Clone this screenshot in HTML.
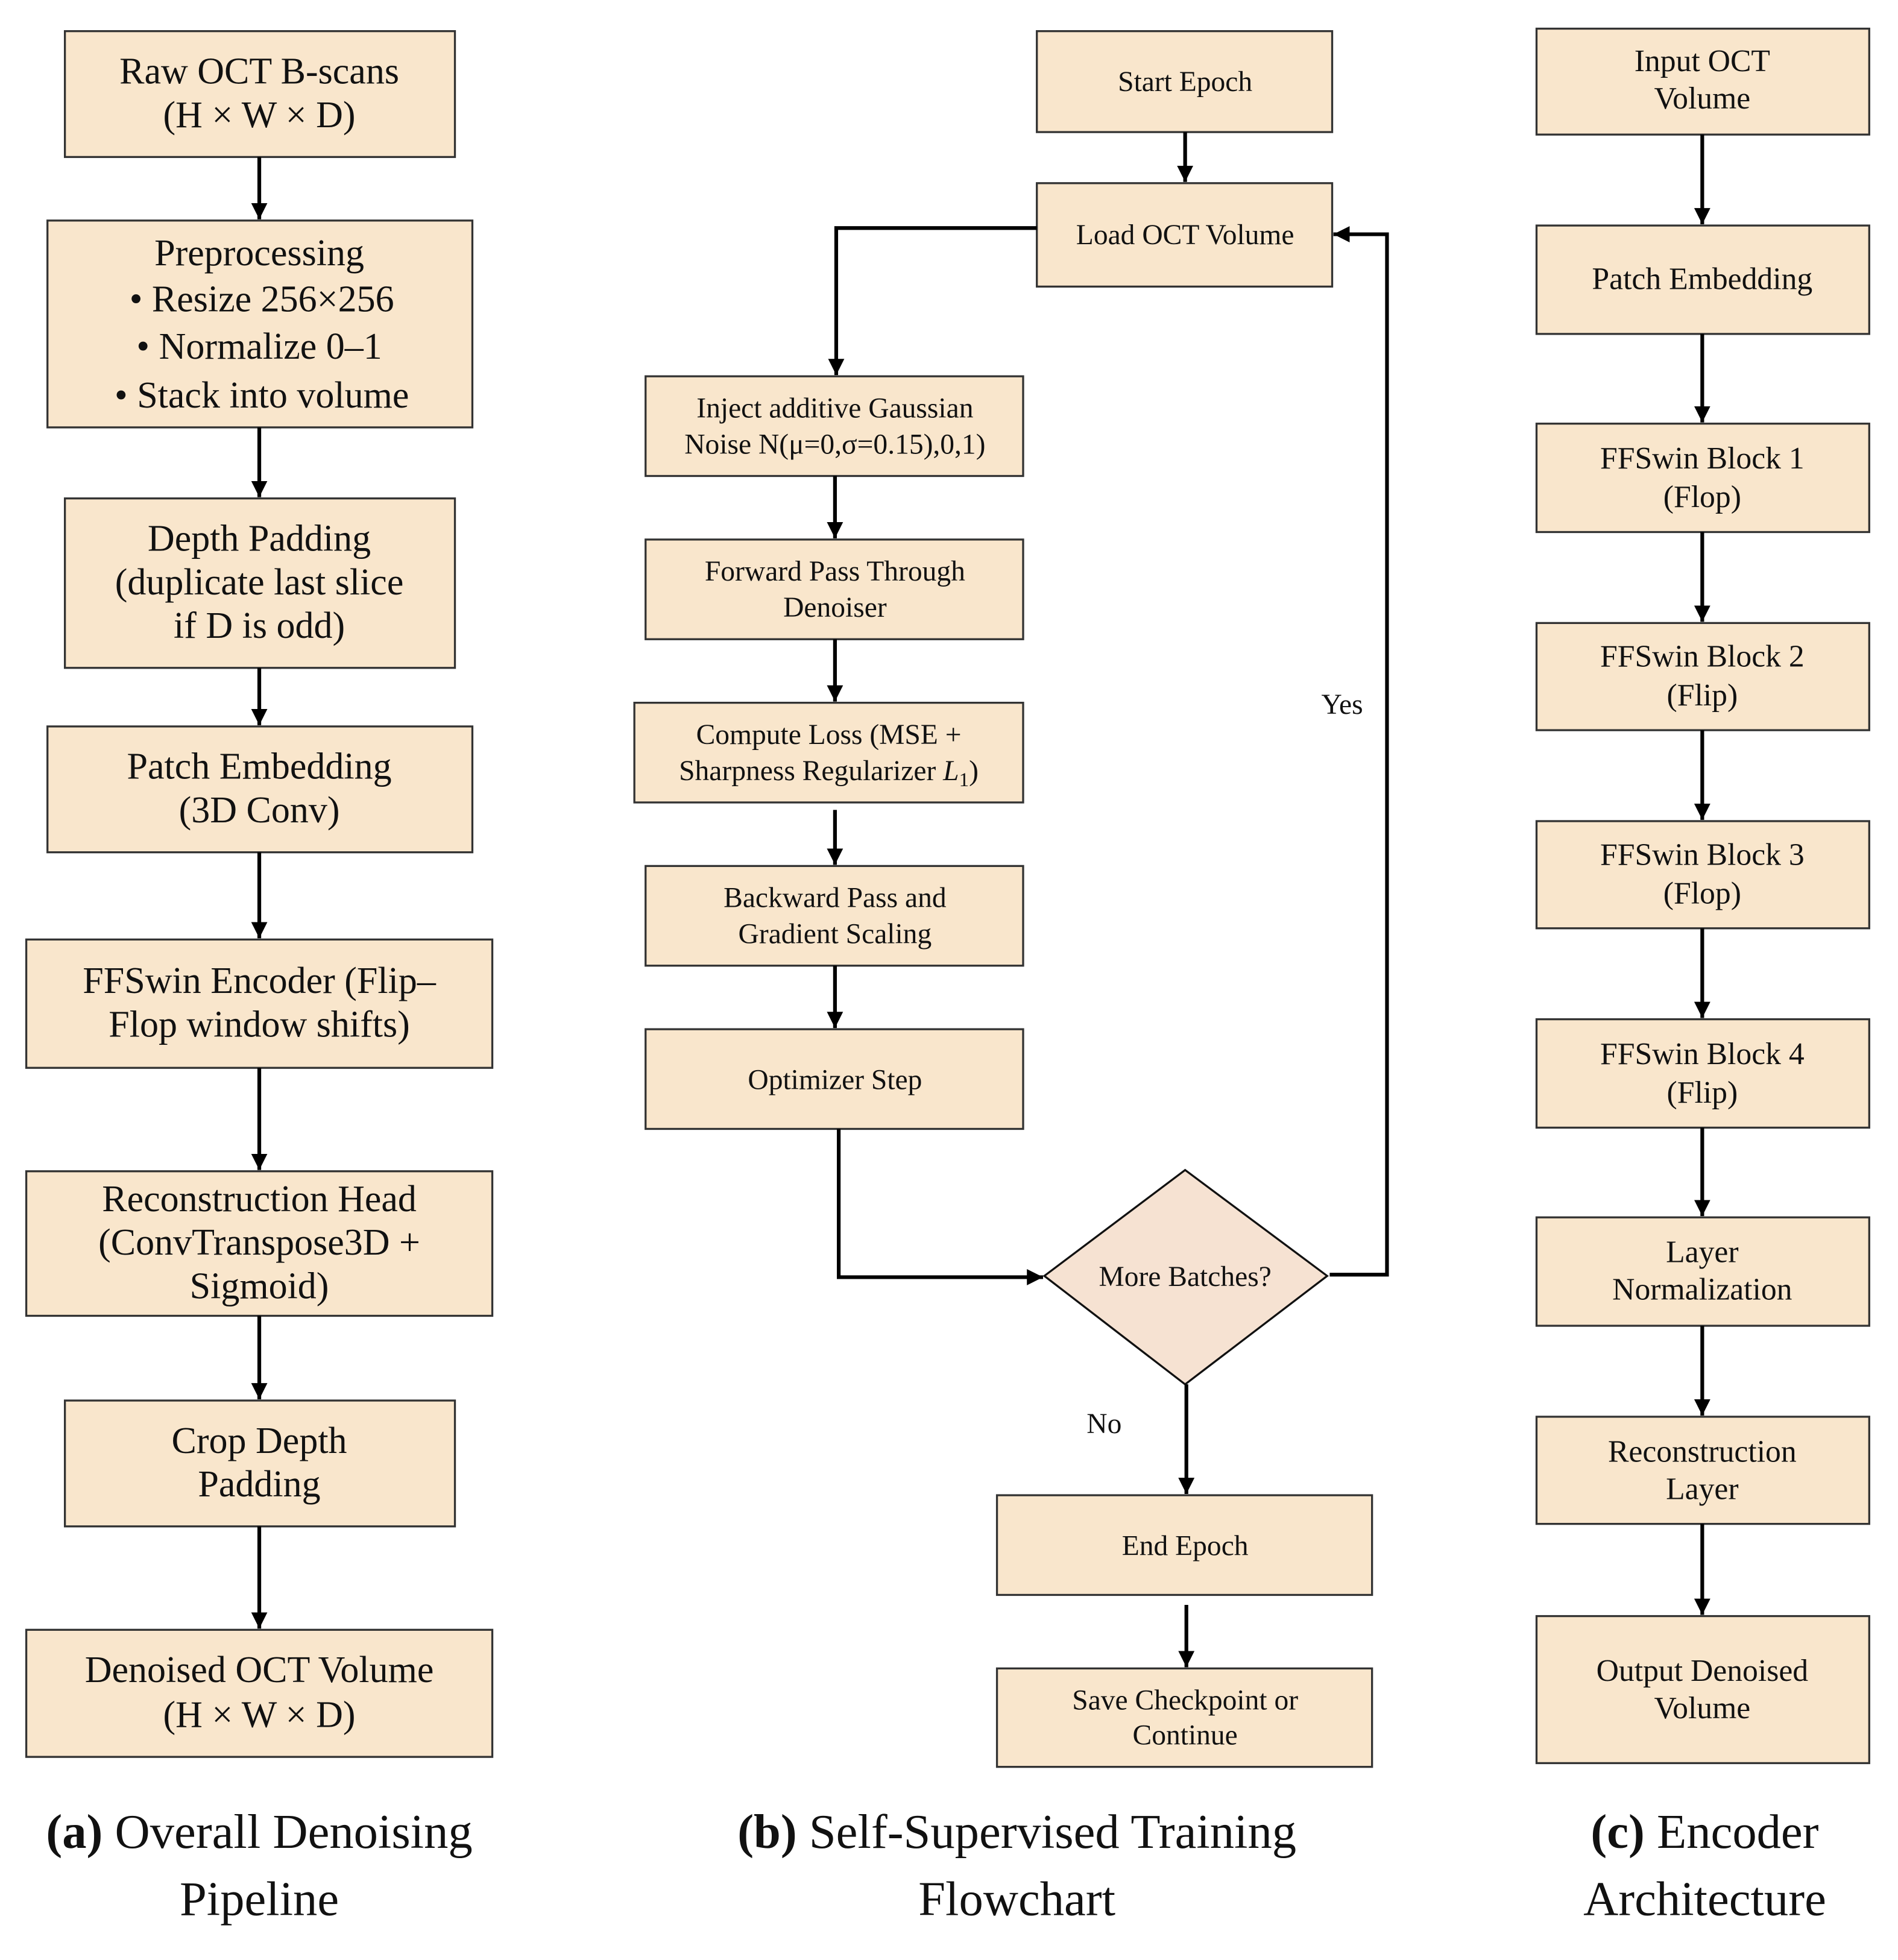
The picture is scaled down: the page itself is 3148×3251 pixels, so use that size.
<!DOCTYPE html>
<html><head><meta charset="utf-8"><style>
html,body{margin:0;padding:0;background:#fff;}
svg{display:block;}
text{font-family:"Liberation Serif",serif;fill:#111;}
</style></head><body>
<svg width="3148" height="3251" viewBox="0 0 1523 1573" xmlns="http://www.w3.org/2000/svg">
<defs>
<marker id="ah" markerWidth="14" markerHeight="14" refX="13" refY="6.5" orient="auto" markerUnits="userSpaceOnUse">
<path d="M0,0 L13,6.5 L0,13 Z" fill="#000"/>
</marker>
</defs>
<g fill="#f9e6cc" stroke="#333" stroke-width="1.6">
<rect x="52" y="25" width="313" height="101"/>
<rect x="38" y="177" width="341" height="166"/>
<rect x="52" y="400" width="313" height="136"/>
<rect x="38" y="583" width="341" height="101"/>
<rect x="21" y="754" width="374" height="103"/>
<rect x="21" y="940" width="374" height="116"/>
<rect x="52" y="1124" width="313" height="101"/>
<rect x="21" y="1308" width="374" height="102"/>
<rect x="832" y="25" width="237" height="81"/>
<rect x="832" y="147" width="237" height="83"/>
<rect x="518" y="302" width="303" height="80"/>
<rect x="518" y="433" width="303" height="80"/>
<rect x="509" y="564" width="312" height="80"/>
<rect x="518" y="695" width="303" height="80"/>
<rect x="518" y="826" width="303" height="80"/>
<rect x="800" y="1200" width="301" height="80"/>
<rect x="800" y="1339" width="301" height="79"/>
<rect x="1233" y="23" width="267" height="85"/>
<rect x="1233" y="181" width="267" height="87"/>
<rect x="1233" y="340" width="267" height="87"/>
<rect x="1233" y="500" width="267" height="86"/>
<rect x="1233" y="659" width="267" height="86"/>
<rect x="1233" y="818" width="267" height="87"/>
<rect x="1233" y="977" width="267" height="87"/>
<rect x="1233" y="1137" width="267" height="86"/>
<rect x="1233" y="1297" width="267" height="118"/>
</g>
<polygon points="951,939 1065,1024 951,1111 838,1024" fill="#f6e2d2" stroke="#111" stroke-width="1.6"/>
<g stroke="#000" stroke-width="3" fill="none">
<path d="M208,126 V176" marker-end="url(#ah)"/>
<path d="M208,343 V399" marker-end="url(#ah)"/>
<path d="M208,536 V582" marker-end="url(#ah)"/>
<path d="M208,684 V753" marker-end="url(#ah)"/>
<path d="M208,857 V939" marker-end="url(#ah)"/>
<path d="M208,1056 V1123" marker-end="url(#ah)"/>
<path d="M208,1225 V1307" marker-end="url(#ah)"/>
<path d="M951,106 V146" marker-end="url(#ah)"/>
<path d="M832,183 H671 V301" marker-end="url(#ah)"/>
<path d="M670,382 V432" marker-end="url(#ah)"/>
<path d="M670,513 V563" marker-end="url(#ah)"/>
<path d="M670,650 V694" marker-end="url(#ah)"/>
<path d="M670,775 V825" marker-end="url(#ah)"/>
<path d="M673,906 V1025 H837" marker-end="url(#ah)"/>
<path d="M1067,1023 H1113 V188 H1070" marker-end="url(#ah)"/>
<path d="M952,1111 V1199" marker-end="url(#ah)"/>
<path d="M952,1288 V1338" marker-end="url(#ah)"/>
<path d="M1366,108 V180" marker-end="url(#ah)"/>
<path d="M1366,268 V339" marker-end="url(#ah)"/>
<path d="M1366,427 V499" marker-end="url(#ah)"/>
<path d="M1366,586 V658" marker-end="url(#ah)"/>
<path d="M1366,745 V817" marker-end="url(#ah)"/>
<path d="M1366,905 V976" marker-end="url(#ah)"/>
<path d="M1366,1064 V1136" marker-end="url(#ah)"/>
<path d="M1366,1223 V1296" marker-end="url(#ah)"/>
</g>
<g font-size="30" text-anchor="middle">
<text x="208" y="67">Raw OCT B-scans</text>
<text x="208" y="102">(H × W × D)</text>
<text x="208" y="213">Preprocessing</text>
<text x="210" y="250">• Resize 256×256</text>
<text x="208" y="288">• Normalize 0–1</text>
<text x="210" y="327">• Stack into volume</text>
<text x="208" y="442">Depth Padding</text>
<text x="208" y="477">(duplicate last slice</text>
<text x="208" y="512">if D is odd)</text>
<text x="208" y="625">Patch Embedding</text>
<text x="208" y="660">(3D Conv)</text>
<text x="208" y="797">FFSwin Encoder (Flip–</text>
<text x="208" y="832">Flop window shifts)</text>
<text x="208" y="972">Reconstruction Head</text>
<text x="208" y="1007">(ConvTranspose3D +</text>
<text x="208" y="1042">Sigmoid)</text>
<text x="208" y="1166">Crop Depth</text>
<text x="208" y="1201">Padding</text>
<text x="208" y="1350">Denoised OCT Volume</text>
<text x="208" y="1386">(H × W × D)</text>
</g>
<g font-size="23" text-anchor="middle">
<text x="951" y="73">Start Epoch</text>
<text x="951" y="196">Load OCT Volume</text>
<text x="670" y="335">Inject additive Gaussian</text>
<text x="670" y="364">Noise N(μ=0,σ=0.15),0,1)</text>
<text x="670" y="466">Forward Pass Through</text>
<text x="670" y="495">Denoiser</text>
<text x="665" y="597">Compute Loss (MSE +</text>
<text x="665" y="626">Sharpness Regularizer <tspan font-style="italic">L</tspan><tspan font-size="16" dy="5">1</tspan><tspan dy="-5">)</tspan></text>
<text x="670" y="728">Backward Pass and</text>
<text x="670" y="757">Gradient Scaling</text>
<text x="670" y="874">Optimizer Step</text>
<text x="951" y="1032">More Batches?</text>
<text x="1077" y="573">Yes</text>
<text x="886" y="1150">No</text>
<text x="951" y="1248">End Epoch</text>
<text x="951" y="1372">Save Checkpoint or</text>
<text x="951" y="1400">Continue</text>
</g>
<g font-size="25" text-anchor="middle">
<text x="1366" y="57">Input OCT</text>
<text x="1366" y="87">Volume</text>
<text x="1366" y="232">Patch Embedding</text>
<text x="1366" y="376">FFSwin Block 1</text>
<text x="1366" y="407">(Flop)</text>
<text x="1366" y="535">FFSwin Block 2</text>
<text x="1366" y="566">(Flip)</text>
<text x="1366" y="694">FFSwin Block 3</text>
<text x="1366" y="725">(Flop)</text>
<text x="1366" y="854">FFSwin Block 4</text>
<text x="1366" y="885">(Flip)</text>
<text x="1366" y="1013">Layer</text>
<text x="1366" y="1043">Normalization</text>
<text x="1366" y="1173">Reconstruction</text>
<text x="1366" y="1203">Layer</text>
<text x="1366" y="1349">Output Denoised</text>
<text x="1366" y="1379">Volume</text>
</g>
<g font-size="39" text-anchor="middle">
<text x="208" y="1483"><tspan font-weight="bold">(a)</tspan> Overall Denoising</text>
<text x="208" y="1537">Pipeline</text>
<text x="816" y="1483"><tspan font-weight="bold">(b)</tspan> Self-Supervised Training</text>
<text x="816" y="1537">Flowchart</text>
<text x="1368" y="1483"><tspan font-weight="bold">(c)</tspan> Encoder</text>
<text x="1368" y="1537">Architecture</text>
</g>
</svg>
</body></html>
